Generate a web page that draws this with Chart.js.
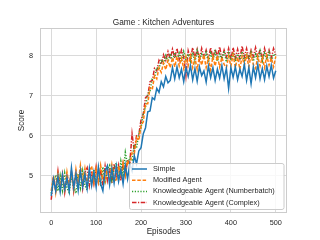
<!DOCTYPE html>
<html>
<head>
<meta charset="utf-8">
<script src="https://cdn.jsdelivr.net/npm/chart.js@4.4.0/dist/chart.umd.min.js"></script>
<style>
  html, body { margin: 0; padding: 0; background: #fff; }
  #wrap { width: 320px; height: 240px; }
</style>
</head>
<body>
<div id="wrap"><canvas id="chart" width="320" height="240"></canvas></div>
<script>
const episodes = [0, 5, 10, 15, 20, 25, 30, 35, 40, 45, 50, 55, 60, 65, 70, 75, 80, 85, 90, 95,
  100, 105, 110, 115, 120, 125, 130, 135, 140, 145, 150, 155, 160, 165, 170, 175, 180, 185, 190, 195,
  200, 205, 210, 215, 220, 225, 230, 235, 240, 245, 250, 255, 260,
  265, 270, 275, 280, 285, 290, 295, 300, 305, 310,
  315, 320, 325, 330, 335, 340, 345, 350, 355, 360,
  365, 370, 375, 380, 385, 390, 395, 400, 405, 410,
  415, 420, 425, 430, 435, 440, 445, 450, 455, 460,
  465, 470, 475, 480, 485, 490, 495, 500]

const simple = [4.50, 4.92, 4.62, 4.98, 4.60, 5.02, 4.66, 4.95, 4.62, 5.20, 4.70, 5.05, 4.64, 5.12, 4.72, 5.04, 4.68, 5.18, 4.76, 5.10,
  4.72, 5.22, 4.80, 4.62, 5.12, 5.25, 4.78, 5.18, 4.82, 5.24, 4.86, 5.16, 4.80, 5.26, 4.92, 5.30, 5.12, 5.50, 5.30, 5.62,
  5.70, 6.05, 6.20, 6.60, 6.62, 6.95, 6.90, 7.18, 7.08, 7.35, 7.22, 7.48, 7.32,
  7.38, 7.70, 7.42, 7.72, 7.45, 7.66, 7.35, 7.70, 7.48, 7.75,
  7.40, 7.68, 7.36, 7.72, 7.50, 7.62, 7.34, 7.74, 7.45, 7.70,
  7.38, 7.66, 7.44, 7.75, 7.42, 7.68, 7.18, 7.70, 7.46, 7.72,
  7.40, 7.66, 7.48, 7.78, 7.38, 7.70, 7.30, 7.72, 7.45, 7.78,
  7.42, 7.68, 7.40, 7.74, 7.48, 7.76, 7.44, 7.62]

const modified = [4.62, 5.00, 4.58, 5.04, 4.70, 5.00, 4.66, 5.10, 4.74, 5.06, 4.68, 5.16, 4.80, 5.26, 4.84, 5.18, 4.78, 5.14, 5.24, 4.84,
  5.18, 4.86, 5.26, 4.90, 4.84, 5.20, 4.90, 5.28, 4.94, 4.86, 5.24, 4.96, 5.32, 5.00, 5.38, 5.25, 5.58, 5.55, 5.95, 5.88,
  6.25, 6.35, 6.80, 6.80, 7.20, 7.15, 7.50, 7.42, 7.70, 7.58, 7.82, 7.65, 7.88,
  7.70, 7.95, 7.72, 7.98, 7.74, 7.94, 7.68, 7.98, 7.75, 8.00,
  7.70, 7.95, 7.66, 7.98, 7.76, 8.02, 7.70, 7.94, 7.64, 7.98,
  7.74, 8.00, 7.72, 7.96, 7.78, 7.70, 7.98, 7.74, 8.02, 7.70,
  7.96, 7.66, 7.98, 7.76, 8.00, 7.72, 8.02, 7.78, 7.68, 7.98,
  7.74, 7.96, 7.70, 8.00, 7.76, 7.94, 7.72, 7.98]

const numberbatch = [4.56, 4.90, 4.98, 4.62, 5.00, 4.64, 5.06, 4.70, 4.58, 5.02, 4.74, 4.56, 5.04, 4.70, 5.12, 4.76, 4.64, 5.10, 4.80, 5.16,
  4.84, 5.12, 4.74, 5.22, 4.86, 5.16, 5.26, 4.90, 5.20, 5.32, 4.94, 5.36, 5.02, 5.58, 5.28, 5.45, 5.40, 5.78, 5.70, 6.05,
  6.20, 6.55, 6.72, 7.05, 7.12, 7.42, 7.45, 7.70, 7.66, 7.90, 7.80, 8.00, 7.84,
  8.05, 7.86, 8.08, 7.88, 8.06, 7.84, 8.10, 7.90, 8.04, 7.86,
  8.08, 7.84, 8.12, 7.88, 8.04, 7.92, 8.08, 7.84, 8.06, 7.88,
  8.10, 7.86, 8.04, 7.90, 8.12, 7.84, 8.06, 7.88, 8.08, 7.86,
  8.04, 7.90, 8.10, 7.84, 8.06, 7.92, 8.08, 7.86, 8.04, 7.88,
  8.12, 7.86, 8.06, 7.90, 8.08, 7.84, 8.04, 8.00]

const complex = [4.40, 4.98, 4.66, 5.12, 4.68, 5.04, 4.58, 5.00, 4.72, 5.10, 4.62, 5.06, 4.76, 5.14, 4.68, 5.08, 5.20, 4.76, 5.12, 4.80,
  5.22, 4.84, 5.16, 4.76, 5.24, 4.88, 5.20, 4.82, 5.30, 4.94, 5.26, 4.88, 5.30, 5.02, 5.40, 5.32, 6.05, 5.62, 6.00, 6.02,
  6.40, 6.55, 6.95, 7.00, 7.35, 7.38, 7.68, 7.62, 7.88, 7.78, 8.02, 7.88, 8.10,
  7.92, 8.16, 7.94, 8.18, 7.90, 8.14, 7.96, 7.50, 8.12, 7.92,
  8.20, 7.94, 8.16, 7.90, 8.18, 7.96, 8.14, 7.92, 8.20, 7.94,
  8.16, 7.98, 8.22, 7.92, 8.14, 7.96, 8.18, 7.90, 8.20, 7.94,
  8.16, 7.92, 8.24, 7.96, 8.18, 7.92, 8.14, 7.98, 8.20, 7.94,
  8.16, 7.90, 8.18, 7.96, 8.14, 7.92, 8.18, 8.02]

const seriesNames = ['Simple', 'Modified Agent', 'Knowledgeable Agent (Numberbatch)', 'Knowledgeable Agent (Complex)']
const xTicks = [0, 100, 200, 300, 400, 500]
const yTicks = [5, 6, 7, 8]

const fontFamily = "'Liberation Sans', Arial, sans-serif"
const textColor = '#262626'
const gridColor = '#dadada'

const toPoints = (values) => values.map((v, i) => ({ x: episodes[i], y: v }))

// title centred over the plot area, as matplotlib does
const titlePlugin = {
  id: 'axesTitle',
  afterDraw (chart) {
    const { ctx, chartArea } = chart
    ctx.save()
    ctx.font = '8.3px ' + fontFamily
    ctx.fillStyle = textColor
    ctx.textAlign = 'center'
    ctx.textBaseline = 'middle'
    ctx.fillText('Game : Kitchen Adventures', (chartArea.left + chartArea.right) / 2, 22.5)
    ctx.restore()
  }
}

// frame round the plot area, like the seaborn spines
const framePlugin = {
  id: 'frame',
  beforeDatasetsDraw (chart) {
    const { ctx, chartArea } = chart
    ctx.save()
    ctx.strokeStyle = '#cccccc'
    ctx.lineWidth = 1
    ctx.strokeRect(chartArea.left + 0.5, chartArea.top + 0.5, chartArea.width - 1, chartArea.height - 1)
    ctx.restore()
  }
}

// legend boxed in the lower right corner of the plot
const legendPlugin = {
  id: 'boxLegend',
  afterDatasetsDraw (chart) {
    const { ctx } = chart
    const left = 129.5, top = 163.5, width = 154.5, height = 46
    ctx.save()
    ctx.fillStyle = 'rgba(255,255,255,0.8)'
    ctx.strokeStyle = '#cccccc'
    ctx.lineWidth = 1
    ctx.beginPath()
    ctx.roundRect(left, top, width, height, 2)
    ctx.fill()
    ctx.stroke()

    ctx.font = '7.3px ' + fontFamily
    ctx.textBaseline = 'middle'
    ctx.textAlign = 'left'
    chart.data.datasets.forEach((ds, i) => {
      const y = 169 + i * 11.2
      ctx.strokeStyle = ds.borderColor
      ctx.lineWidth = ds.borderWidth
      ctx.setLineDash(ds.borderDash || [])
      ctx.beginPath()
      ctx.moveTo(132, y)
      ctx.lineTo(147, y)
      ctx.stroke()
      ctx.setLineDash([])
      ctx.fillStyle = textColor
      ctx.fillText(ds.label, 153, y)
    })
    ctx.restore()
  }
}

new Chart(document.getElementById('chart'), {
  type: 'line',
  data: {
    datasets: [
      { label: seriesNames[0], data: toPoints(simple), borderColor: '#1f77b4', borderWidth: 1.5 },
      { label: seriesNames[1], data: toPoints(modified), borderColor: '#ff7f0e', borderWidth: 1.5, borderDash: [3.5, 1.8] },
      { label: seriesNames[2], data: toPoints(numberbatch), borderColor: '#2ca02c', borderWidth: 1.5, borderDash: [1.2, 1.6] },
      { label: seriesNames[3], data: toPoints(complex), borderColor: '#d62728', borderWidth: 1.5, borderDash: [4.5, 1.5, 1.2, 1.5] }
    ]
  },
  options: {
    responsive: false,
    animation: false,
    devicePixelRatio: 1,
    elements: { point: { radius: 0 }, line: { tension: 0 } },
    layout: { padding: { left: 0, right: 33, top: 28, bottom: 0 } },
    plugins: {
      legend: { display: false },
      tooltip: { enabled: false },
      title: { display: false }
    },
    scales: {
      x: {
        type: 'linear',
        min: -25,
        max: 525,
        afterBuildTicks: (scale) => { scale.ticks = xTicks.map(v => ({ value: v })) },
        afterFit: (scale) => { scale.height = 27 },
        grid: { color: gridColor, drawTicks: false },
        border: { display: false },
        ticks: { color: textColor, font: { family: fontFamily, size: 7.3 }, padding: 6, maxRotation: 0 },
        title: { display: true, text: 'Episodes', color: textColor, font: { family: fontFamily, size: 8.2 }, padding: { top: 0, bottom: 3 } }
      },
      y: {
        min: 4.07,
        max: 8.69,
        afterBuildTicks: (scale) => { scale.ticks = yTicks.map(v => ({ value: v })) },
        afterFit: (scale) => { scale.width = 40 },
        grid: { color: gridColor, drawTicks: false },
        border: { display: false },
        ticks: { color: textColor, font: { family: fontFamily, size: 7.3 }, padding: 7 },
        title: { display: true, text: 'Score', color: textColor, font: { family: fontFamily, size: 8.2 }, padding: { top: 17, bottom: 0 } }
      }
    }
  },
  plugins: [framePlugin, legendPlugin, titlePlugin]
})
</script>
</body>
</html>
